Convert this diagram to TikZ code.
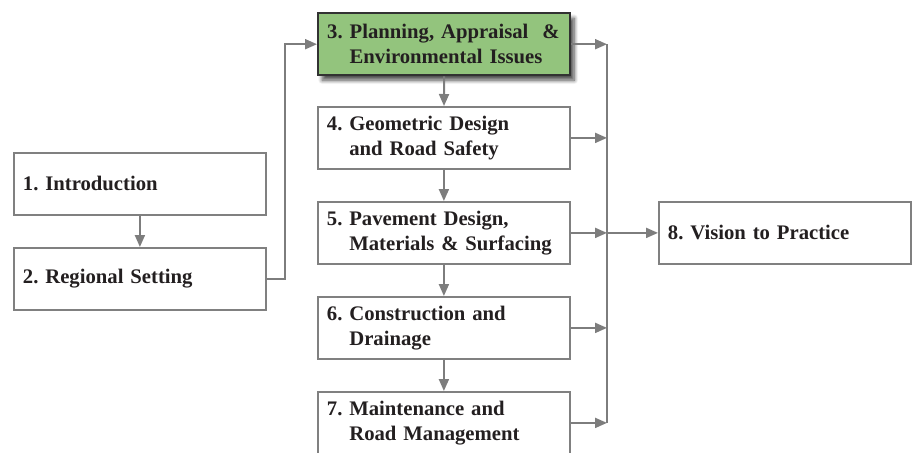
\documentclass[tikz,border=0pt]{standalone}
\usepackage{fontspec}
\setmainfont{Liberation Serif}
\usetikzlibrary{arrows.meta,shadows.blur}
\definecolor{boxgray}{RGB}{128,128,128}
\definecolor{linegray}{RGB}{125,125,125}
\definecolor{textdark}{RGB}{35,31,32}
\definecolor{planfill}{RGB}{147,196,125}
\definecolor{planedge}{RGB}{50,50,50}
\frenchspacing
\hyphenpenalty=10000
\tikzset{
  chapter/.style={draw=boxgray, line width=1.8pt, fill=white, anchor=north west,
    minimum width=252pt, minimum height=62pt, text width=234pt, inner xsep=9pt,
    align=left, font=\fontsize{20.7}{24.5}\selectfont\bfseries, text=textdark},
  link/.style={draw=linegray, line width=2pt, -{Triangle[length=12pt,width=10pt]}},
}
\begin{document}
\begin{tikzpicture}[x=1pt,y=-1pt]
  \useasboundingbox (0,0) rectangle (912,452);
  \clip (0,0) rectangle (912,452);
  % left column
  \node[chapter] (intro) at (13,152) {1. Introduction};
  \node[chapter] (region) at (13,247) {2. Regional Setting};
  % middle column
  \node[chapter, fill=planfill, draw=planedge, line width=2.4pt,
    blur shadow={shadow xshift=4pt, shadow yshift=-5pt, shadow opacity=70,
      shadow blur radius=4pt, shadow blur steps=8}]
    (plan) at (317,12) {\mbox{3. Planning, Appraisal\ \ \&}\\\phantom{3. }Environmental Issues};
  \node[chapter] (geom) at (317,106) {4. Geometric Design\\\phantom{4. }and Road Safety};
  \node[chapter] (pave) at (317,201) {5. Pavement Design,\\\phantom{5. }Materials \& Surfacing};
  \node[chapter] (constr) at (317,296) {6. Construction and\\\phantom{6. }Drainage};
  \node[chapter] (maint) at (317,391) {7. Maintenance and\\\phantom{7. }Road Management};
  % right
  \node[chapter] (vision) at (658,201) {8. Vision to Practice};
  \coordinate (bus) at (607,0);

  \draw[link] (intro) -- (region);
  \draw[link] (region.east) -- ++(18,0) |- (plan.west);
  \draw[link] (plan) -- (geom);
  \draw[link] (geom) -- (pave);
  \draw[link] (pave) -- (constr);
  \draw[link] (constr) -- (maint);
  \foreach \ch in {plan,geom,pave,constr,maint}
    \draw[link] (\ch.east) -- (\ch.east -| bus);
  \draw[linegray, line width=2pt] (plan.east -| bus) -- (maint.east -| bus);
  \draw[link] (pave.east -| bus) -- (vision);
\end{tikzpicture}
\end{document}
